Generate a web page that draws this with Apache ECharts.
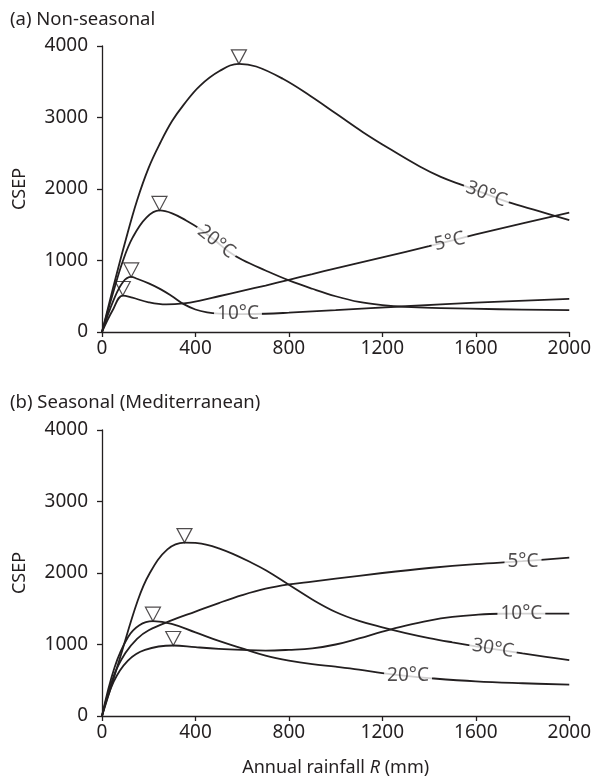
<!DOCTYPE html>
<html>
<head>
<meta charset="utf-8">
<script src="https://cdn.jsdelivr.net/npm/echarts@6/dist/echarts.min.js"></script>
<style>
  html, body { margin: 0; padding: 0; background: #fff; }
  #echarts { width: 594px; height: 781px; }
</style>
</head>
<body>
<div id="echarts"></div>
<script>
// tick labels
const xTicks = [0, 400, 800, 1200, 1600, 2000]
const yTicks = [0, 1000, 2000, 3000, 4000]

// (a) Non-seasonal : [annual rainfall mm, CSEP]
const a30 = [[0, 0], [50, 650], [100, 1270], [150, 1840], [200, 2300], [250, 2650], [300, 2950], [350, 3180], [418, 3440], [503, 3650], [586, 3750], [660, 3713], [774, 3541], [889, 3308], [1003, 3052], [1117, 2795], [1231, 2562], [1360, 2315], [1450, 2170], [1546, 2050], [1640, 1935], [1735, 1820], [1870, 1690], [2000, 1565]]
const a20 = [[0, 0], [45, 520], [90, 1000], [132, 1326], [190, 1600], [246, 1700], [300, 1660], [360, 1560], [420, 1440], [480, 1290], [540, 1130], [600, 1010], [700, 860], [800, 722], [900, 605], [1000, 500], [1100, 420], [1200, 375], [1300, 350], [1450, 335], [1700, 318], [2000, 305]]
const a10 = [[0, 0], [50, 450], [90, 700], [125, 770], [150, 745], [200, 680], [250, 600], [300, 500], [350, 390], [400, 315], [450, 275], [500, 258], [600, 250], [700, 255], [800, 270], [1000, 305], [1300, 360], [1600, 410], [2000, 462]]
const a5 = [[0, 0], [45, 300], [89, 510], [130, 480], [200, 415], [275, 385], [350, 400], [420, 440], [500, 500], [600, 575], [700, 650], [800, 730], [900, 810], [1000, 890], [1200, 1045], [1400, 1200], [1600, 1365], [1800, 1520], [2000, 1670]]
const aPeaks = [[586, 3750], [246, 1700], [125, 770], [89, 510]]
const aLabels = [['30°C', 1645, 1928], ['20°C', 489, 1262], ['5°C', 1488, 1266], ['10°C', 582, 256]]

// (b) Seasonal (Mediterranean)
const b30 = [[0, 0], [75, 790], [153, 1615], [203, 1990], [280, 2330], [353, 2425], [400, 2420], [450, 2395], [500, 2345], [560, 2268], [630, 2160], [703, 2035], [800, 1835], [900, 1630], [1000, 1455], [1100, 1330], [1200, 1240], [1300, 1160], [1400, 1090], [1500, 1030], [1600, 975], [1700, 925], [1800, 875], [1900, 828], [2000, 782]]
const b20 = [[0, 0], [54, 683], [111, 1102], [160, 1270], [218, 1326], [298, 1290], [400, 1170], [500, 1050], [600, 945], [700, 845], [800, 775], [900, 725], [1000, 690], [1100, 650], [1200, 600], [1300, 560], [1400, 530], [1600, 485], [1800, 458], [2000, 438]]
const b10 = [[0, 0], [50, 480], [111, 776], [184, 926], [305, 986], [400, 962], [500, 940], [600, 925], [700, 915], [800, 925], [900, 945], [1000, 1000], [1100, 1085], [1200, 1180], [1300, 1265], [1400, 1335], [1500, 1385], [1600, 1415], [1700, 1430], [2000, 1432]]
const b5 = [[0, 0], [50, 560], [100, 880], [150, 1080], [200, 1200], [300, 1340], [400, 1460], [500, 1580], [600, 1690], [700, 1780], [800, 1840], [900, 1880], [1000, 1920], [1200, 2000], [1400, 2070], [1600, 2125], [1800, 2165], [2000, 2215]]
const bPeaks = [[353, 2425], [218, 1326], [305, 986]]
const bLabels = [['5°C', 1802, 2160], ['10°C', 1795, 1430], ['30°C', 1674, 945], ['20°C', 1310, 560]]

// label rotation (deg), same order as the label arrays
const aRotate = [-21, -38, 13, 0]
const bRotate = [0, 0, -9, 0]

const ink = '#231f20'
const font = 'Noto Sans'

function curve(data, idx) {
  return {
    type: 'line',
    xAxisIndex: idx,
    yAxisIndex: idx,
    data: data,
    smooth: 0.4,
    symbol: 'none',
    lineStyle: { color: ink, width: 1.8 },
    z: 2
  }
}

// open triangles sitting on the maxima
function peaks(data, idx) {
  return {
    type: 'scatter',
    xAxisIndex: idx,
    yAxisIndex: idx,
    data: data,
    symbol: 'triangle',
    symbolRotate: 180,
    symbolSize: [15, 14],
    symbolOffset: [0, -7],
    itemStyle: { color: 'rgba(0,0,0,0)', borderColor: ink, borderWidth: 1.2 },
    z: 5
  }
}

// inline curve labels, white box breaks the line
function labels(list, rot, idx) {
  return {
    type: 'scatter',
    xAxisIndex: idx,
    yAxisIndex: idx,
    symbolSize: 0,
    z: 10,
    data: list.map((l, i) => ({
      value: [l[1], l[2]],
      name: l[0],
      label: { rotate: rot[i] }
    })),
    label: {
      show: true,
      position: 'inside',
      formatter: '{b}',
      color: ink,
      fontFamily: font,
      fontSize: 19,
      backgroundColor: '#fff',
      padding: [0, 3]
    }
  }
}

function xAx(idx, withName) {
  const ax = {
    type: 'value',
    gridIndex: idx,
    min: xTicks[0],
    max: xTicks[xTicks.length - 1],
    interval: xTicks[1] - xTicks[0],
    splitLine: { show: false },
    axisLine: { lineStyle: { color: ink, width: 1.3 } },
    axisTick: { show: true, length: 5, lineStyle: { color: ink, width: 1.3 } },
    axisLabel: { color: ink, fontFamily: font, fontSize: 19, margin: 7, formatter: v => String(v) }
  }
  if (withName) {
    ax.name = 'Annual rainfall {i|R} (mm)'
    ax.nameLocation = 'middle'
    ax.nameGap = 43
    ax.nameTextStyle = {
      color: ink, fontFamily: font, fontSize: 18,
      rich: { i: { fontStyle: 'italic', color: ink, fontFamily: font, fontSize: 18 } }
    }
  }
  return ax
}

function yAx(idx) {
  return {
    type: 'value',
    gridIndex: idx,
    min: yTicks[0],
    max: yTicks[yTicks.length - 1],
    interval: yTicks[1] - yTicks[0],
    name: 'CSEP',
    nameLocation: 'middle',
    nameGap: 73,
    nameTextStyle: { color: ink, fontFamily: font, fontSize: 18 },
    splitLine: { show: false },
    axisLine: { show: true, lineStyle: { color: ink, width: 1.3 } },
    axisTick: { show: true, length: 5, lineStyle: { color: ink, width: 1.3 } },
    axisLabel: { color: ink, fontFamily: font, fontSize: 19, margin: 14, formatter: v => String(v) }
  }
}

const myCharts = echarts.init(document.getElementById('echarts'), null, { renderer: 'canvas' })

myCharts.setOption({
  animation: false,
  backgroundColor: '#fff',
  title: [
    { text: '(a) Non-seasonal', left: 5, top: 5, textStyle: { color: ink, fontFamily: font, fontSize: 18.5, fontWeight: 'normal' } },
    { text: '(b) Seasonal (Mediterranean)', left: 5, top: 388, textStyle: { color: ink, fontFamily: font, fontSize: 18.5, fontWeight: 'normal' } }
  ],
  grid: [
    { left: 102, top: 46, width: 470, height: 286 },
    { left: 102, top: 430, width: 470, height: 286 }
  ],
  xAxis: [xAx(0, false), xAx(1, true)],
  yAxis: [yAx(0), yAx(1)],
  series: [
    curve(a30, 0), curve(a20, 0), curve(a10, 0), curve(a5, 0),
    peaks(aPeaks, 0),
    labels(aLabels, aRotate, 0),
    curve(b30, 1), curve(b20, 1), curve(b10, 1), curve(b5, 1),
    peaks(bPeaks, 1),
    labels(bLabels, bRotate, 1)
  ]
})
</script>
</body>
</html>
